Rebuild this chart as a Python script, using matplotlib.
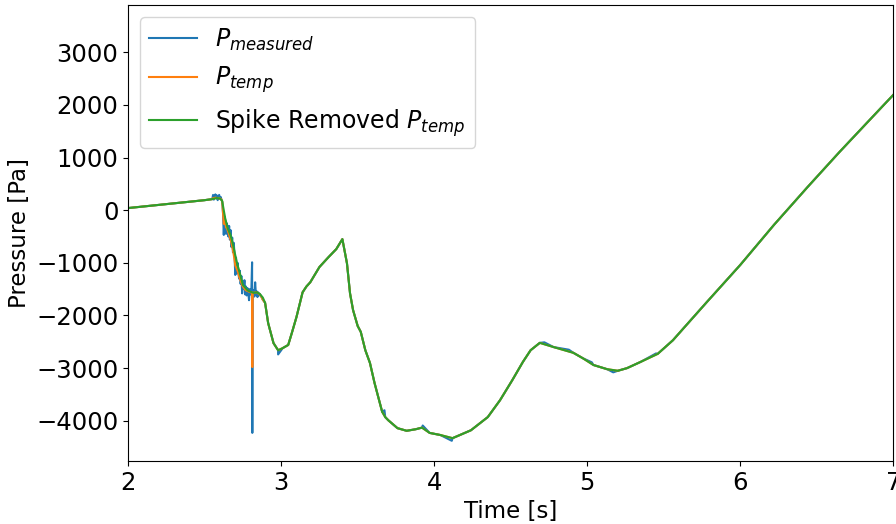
import numpy as np
import matplotlib.pyplot as plt

# smooth pressure trace (after spike removal)
t_clean = np.array([2.00, 2.10, 2.20, 2.30, 2.40, 2.50, 2.55, 2.58, 2.60, 2.614,
                    2.634, 2.65, 2.67, 2.686, 2.71, 2.73, 2.75, 2.78, 2.80, 2.82,
                    2.84, 2.86, 2.88, 2.895, 2.915, 2.95, 2.98, 3.01, 3.046, 3.07,
                    3.10, 3.14, 3.165, 3.19, 3.25, 3.31, 3.36, 3.40, 3.43, 3.45,
                    3.47, 3.50, 3.52, 3.55, 3.58, 3.61, 3.66, 3.68, 3.70, 3.76,
                    3.82, 3.88, 3.92, 3.97, 4.04, 4.12, 4.24, 4.35, 4.43, 4.51,
                    4.58, 4.63, 4.69, 4.78, 4.91, 4.97, 5.04, 5.13, 5.20, 5.26,
                    5.35, 5.46, 5.56, 5.63, 5.78, 6.00, 6.22, 6.44, 6.65, 6.87,
                    7.00])
p_clean = np.array([40, 70, 100, 130, 160, 190, 210, 230, 220, 180,
                    -150, -340, -480, -665, -990, -1200, -1420, -1520, -1550, -1570,
                    -1560, -1590, -1660, -1760, -2145, -2525, -2660, -2620, -2560, -2330,
                    -2030, -1560, -1450, -1370, -1080, -890, -740, -550, -1010, -1580,
                    -1900, -2200, -2310, -2660, -2900, -3280, -3830, -3930, -3990, -4140,
                    -4190, -4160, -4130, -4230, -4270, -4330, -4180, -3930, -3610, -3230,
                    -2880, -2660, -2520, -2600, -2710, -2810, -2940, -3020, -3050, -3000,
                    -2880, -2730, -2470, -2240, -1750, -1040, -280, 440, 1110, 1790,
                    2190])

# raw samples in the noisy window 2.55 - 2.90 s
t_noisy = np.array([2.550, 2.555, 2.560, 2.565, 2.570, 2.575, 2.580, 2.585, 2.590, 2.595,
                    2.600, 2.605, 2.610, 2.615, 2.620, 2.625, 2.630, 2.635, 2.640, 2.645,
                    2.650, 2.655, 2.660, 2.665, 2.670, 2.675, 2.680, 2.685, 2.690, 2.695,
                    2.700, 2.705, 2.710, 2.715, 2.720, 2.725, 2.730, 2.735, 2.740, 2.745,
                    2.750, 2.755, 2.760, 2.765, 2.770, 2.775, 2.780, 2.785, 2.790, 2.795,
                    2.800, 2.805, 2.810, 2.8115, 2.813, 2.820, 2.825, 2.830, 2.835, 2.840,
                    2.845, 2.850, 2.855, 2.860, 2.870, 2.880, 2.895])
p_measured_noisy = np.array([210, 290, 200, 250, 300, 230, 280, 190, 260, 290,
                             220, 250, 200, 160, -60, -470, -120, -200, -450, -250,
                             -330, -500, -300, -560, -380, -700, -520, -800, -620, -820,
                             -1230, -900, -1200, -1000, -1150, -1300, -1150, -1400, -1250, -1580,
                             -1350, -1500, -1330, -1600, -1450, -1620, -1480, -1560, -1710, -1500,
                             -1600, -1550, -990, -4230, -1580, -1520, -1640, -1370, -1600, -1540,
                             -1650, -1560, -1620, -1590, -1640, -1700, -1760])
p_temp_noisy = np.array([210, 230, 220, 230, 240, 230, 235, 225, 230, 225,
                         220, 215, 200, 160, -60, -260, -200, -250, -330, -330,
                         -380, -420, -470, -520, -560, -620, -690, -760, -850, -930,
                         -1050, -1080, -1120, -1150, -1200, -1260, -1300, -1340, -1380, -1420,
                         -1450, -1470, -1490, -1510, -1520, -1530, -1530, -1540, -1550, -1550,
                         -1560, -1560, -1560, -2980, -1570, -1570, -1570, -1560, -1560, -1560,
                         -1570, -1580, -1590, -1600, -1640, -1700, -1760])

# a few small sensor blips outside the noisy window
t_blip = np.array([2.98, 3.675, 3.925, 4.115, 4.72, 4.88, 5.03, 5.17, 5.45])
p_blip = np.array([-2740, -3800, -4090, -4380, -2510, -2650, -2890, -3080, -2720])


def merge(t_a, p_a, t_b, p_b):
    t = np.concatenate([t_a, t_b])
    p = np.concatenate([p_a, p_b])
    idx = np.argsort(t, kind="stable")
    return t[idx], p[idx]


outside = (t_clean < 2.55) | (t_clean > 2.895)
t_meas, p_meas = merge(t_clean[outside], p_clean[outside], t_noisy, p_measured_noisy)
t_meas, p_meas = merge(t_meas, p_meas, t_blip, p_blip)
t_temp, p_temp = merge(t_clean[outside], p_clean[outside], t_noisy, p_temp_noisy)

fig, ax = plt.subplots(figsize=(8.96, 5.24), dpi=100)
fig.subplots_adjust(left=0.143, right=0.997, bottom=0.12, top=0.99)

ax.plot(t_meas, p_meas, label=r'$P_{measured}$')
ax.plot(t_temp, p_temp, label=r'$P_{temp}$')
ax.plot(t_clean, p_clean, label=r'Spike Removed $P_{temp}$')

ax.set_xlim(2, 7)
ax.set_ylim(-4766, 3892)
ax.tick_params(labelsize=17.5)
ax.set_xlabel('Time [s]', fontsize=16.5)
ax.set_ylabel('Pressure [Pa]', fontsize=16.5)
ax.legend(loc='upper left', fontsize=17)

plt.savefig('out.png')
